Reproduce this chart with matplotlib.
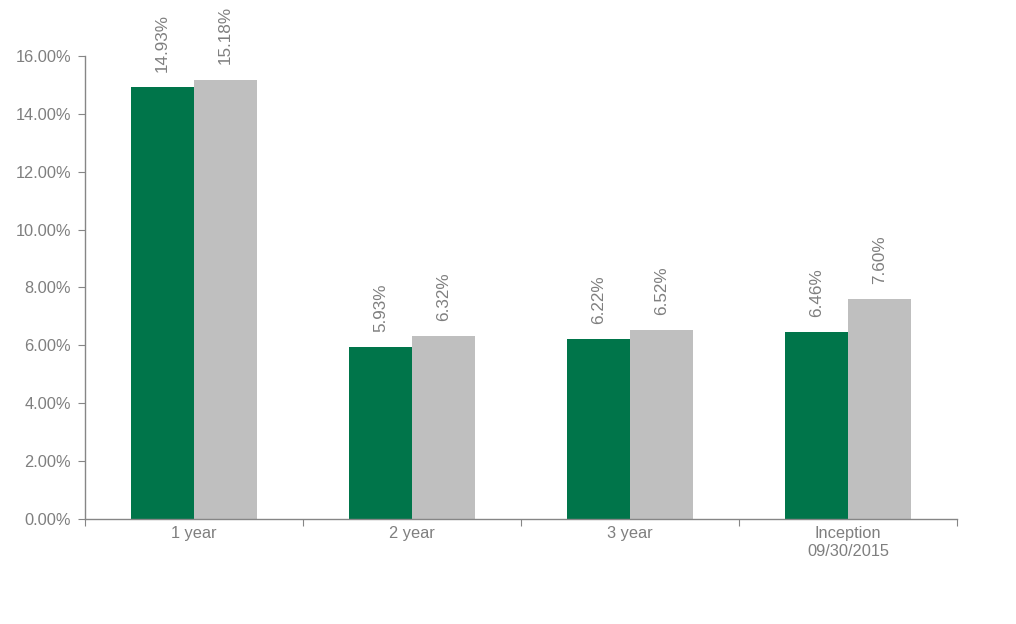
import matplotlib
matplotlib.use("Agg")
import matplotlib.pyplot as plt
import numpy as np
from matplotlib.ticker import FuncFormatter, FixedLocator

plt.rcParams['font.family'] = ['Liberation Sans', 'DejaVu Sans']

# data
categories = ["1 year", "2 year", "3 year", "Inception\n09/30/2015"]
fund = [14.93, 5.93, 6.22, 6.46]
benchmark = [15.18, 6.32, 6.52, 7.60]

green = '#00754A'
grey = '#BFBFBF'
text_color = '#7F7F7F'
axis_color = '#868686'

fig = plt.figure(figsize=(10.16, 6.24), dpi=100)
ax = fig.add_axes([85 / 1016, 105 / 624, 872 / 1016, 463 / 624])

x = np.arange(len(categories))
w = 0.288
bars1 = ax.bar(x - w / 2, fund, w, color=green)
bars2 = ax.bar(x + w / 2, benchmark, w, color=grey)

# rotated value labels above each bar
for bars, vals in ((bars1, fund), (bars2, benchmark)):
    for b, v in zip(bars, vals):
        ax.annotate(f"{v:.2f}%",
                    (b.get_x() + b.get_width() / 2, b.get_height()),
                    xytext=(0, 11), textcoords='offset points',
                    rotation=90, ha='center', va='bottom',
                    fontsize=12.3, color=text_color)

ax.set_xlim(-0.5, len(categories) - 0.5)
ax.set_ylim(0, 16)
ax.yaxis.set_major_locator(FixedLocator(np.arange(0, 17, 2)))
ax.yaxis.set_major_formatter(FuncFormatter(lambda v, p: f"{v:.2f}%"))

# category separators as ticks, labels in the middle
ax.set_xticks(np.arange(-0.5, len(categories), 1.0))
ax.set_xticklabels([])
ax.set_xticks(x, minor=True)
ax.set_xticklabels(categories, minor=True, linespacing=1.25)
ax.tick_params(axis='x', which='minor', length=0, pad=5,
               labelsize=11.75, labelcolor=text_color)
ax.tick_params(axis='x', which='major', length=5, direction='out',
               color=axis_color)
ax.tick_params(axis='y', length=5, direction='out', color=axis_color,
               labelsize=11.75, labelcolor=text_color, pad=5)

for s in ('top', 'right'):
    ax.spines[s].set_visible(False)
for s in ('left', 'bottom'):
    ax.spines[s].set_color(axis_color)
    ax.spines[s].set_linewidth(1)

fig.savefig("out.png", dpi=100)
